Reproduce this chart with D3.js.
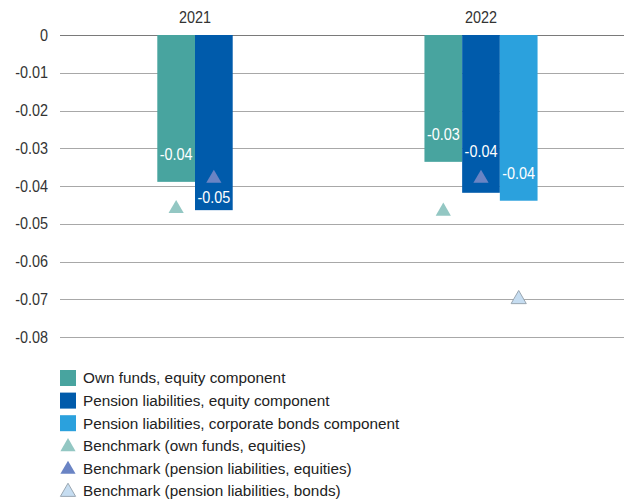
<!DOCTYPE html>
<html><head><meta charset="utf-8">
<script src="https://cdn.jsdelivr.net/npm/d3@7"></script>
<style>body{margin:0;background:#fff}svg{display:block}text{font-family:"Liberation Sans",Arial,sans-serif}</style>
</head><body><svg id="c" width="628" height="503"></svg>
<script>
const categories = ["2021", "2022"];
const seriesNames = ["Own funds, equity component", "Pension liabilities, equity component", "Pension liabilities, corporate bonds component"];
const ownFunds = [-0.0389, -0.0336];
const pensionEquity = [-0.0464, -0.0418];
const pensionBonds = [null, -0.0439];
const benchmarkNames = ["Benchmark (own funds, equities)", "Benchmark (pension liabilities, equities)", "Benchmark (pension liabilities, bonds)"];
const benchOwn = [-0.046, -0.0467];
const benchPensionEq = [-0.038, -0.038];
const benchPensionBonds = [null, -0.070];
const yTicks = [0, -0.01, -0.02, -0.03, -0.04, -0.05, -0.06, -0.07, -0.08];

const barColors = ["#48a49f", "#005bab", "#2ba1dd"];
const markFill = ["#93c7c3", "#6a84c4", "#c6ddf1"];
const markStroke = ["none", "none", "#9aa7b2"];
const labelOff = [[27, 27], [13, 41], [27, 27]];

const loc = d3.formatLocale({decimal: ".", thousands: ",", grouping: [3], currency: ["", ""], minus: "-"});
const fmt = loc.format(".2f");

const svg = d3.select("#c");
const y = d3.scaleLinear().domain([-0.08, 0]).range([337, 35]);
const x = d3.scaleBand().domain(categories).range([52, 624]);
const barW = 37.7;

svg.append("g").selectAll("line").data(yTicks).join("line")
  .attr("x1", 60).attr("x2", 624)
  .attr("y1", d => Math.round(y(d)) + 0.5).attr("y2", d => Math.round(y(d)) + 0.5)
  .attr("stroke", d => d === 0 ? "#7a7a7a" : "#a8a8a8").attr("stroke-width", 1.2);

// slightly condensed text: scale x by 0.9 around anchor point
const cond = (sel, fx, fy) => sel.attr("transform", d => `translate(${fx(d)},${fy(d)}) scale(0.9,1)`);

cond(svg.append("g").selectAll("text").data(yTicks).join("text"), () => 48, d => y(d))
  .attr("dy", "0.35em").attr("text-anchor", "end").attr("font-size", 16).attr("fill", "#333")
  .text(d => d === 0 ? "0" : fmt(d));

cond(svg.append("g").selectAll("text").data(categories).join("text"), d => x(d) + x.bandwidth() / 2, () => 17)
  .attr("dy", "0.35em").attr("text-anchor", "middle").attr("font-size", 16).attr("fill", "#333").text(d => d);

const allSeries = [ownFunds, pensionEquity, pensionBonds];
const allBench = [benchOwn, benchPensionEq, benchPensionBonds];
const bars = [], marks = [];
categories.forEach((c, ci) => {
  const present = allSeries.map((s, si) => s[ci] != null ? si : -1).filter(i => i >= 0);
  const cx = x(c) + x.bandwidth() / 2;
  present.forEach((si, k) => {
    const bx = cx - present.length * barW / 2 + k * barW;
    bars.push({ si, ci, bx, v: allSeries[si][ci] });
    const bv = allBench[si][ci];
    if (bv != null) marks.push({ si, cx: bx + barW / 2, v: bv });
  });
});

svg.append("g").selectAll("rect").data(bars).join("rect")
  .attr("x", d => d.bx).attr("width", barW)
  .attr("y", y(0)).attr("height", d => y(d.v) - y(0))
  .attr("fill", d => barColors[d.si]);

const tri = d3.symbol().type(d3.symbolTriangle).size(100);
svg.append("g").selectAll("path").data(marks).join("path")
  .attr("d", tri)
  .attr("transform", d => `translate(${d.cx},${y(d.v)})`)
  .attr("fill", d => markFill[d.si]).attr("stroke", d => markStroke[d.si]);

cond(svg.append("g").selectAll("text").data(bars).join("text"), d => d.bx + barW / 2, d => y(d.v) - labelOff[d.si][d.ci])
  .attr("dy", "0.35em").attr("text-anchor", "middle").attr("font-size", 16)
  .attr("fill", "#fff").text(d => fmt(d.v));

const leg = svg.append("g");
const rowY = i => 378 + i * 22.6;
seriesNames.forEach((n, i) => {
  leg.append("rect").attr("x", 60).attr("y", rowY(i) - 8).attr("width", 16).attr("height", 16).attr("fill", barColors[i]);
  leg.append("text").attr("x", 83).attr("y", rowY(i)).attr("dy", "0.35em").attr("font-size", 15.3).attr("fill", "#222").text(n);
});
benchmarkNames.forEach((n, j) => {
  const i = j + 3;
  leg.append("path").attr("d", tri).attr("transform", `translate(68,${rowY(i)+1})`)
    .attr("fill", markFill[j]).attr("stroke", markStroke[j]);
  leg.append("text").attr("x", 83).attr("y", rowY(i)).attr("dy", "0.35em").attr("font-size", 15.3).attr("fill", "#222").text(n);
});
</script></body></html>
